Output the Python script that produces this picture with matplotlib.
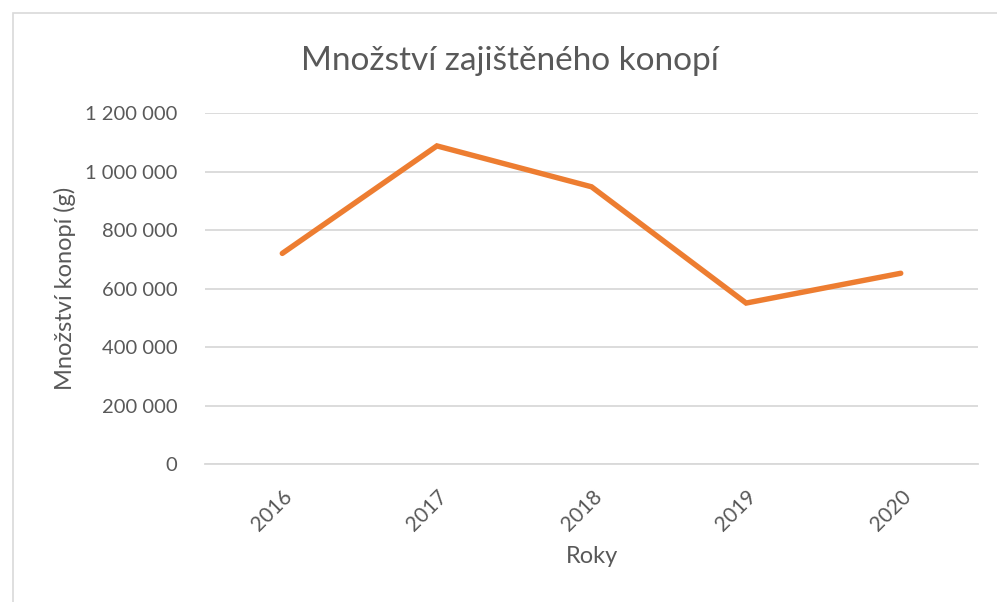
import matplotlib.pyplot as plt
from matplotlib.patches import Rectangle
from matplotlib.ticker import FuncFormatter

# data
years = ["2016", "2017", "2018", "2019", "2020"]
amount_g = [721000, 1089000, 949000, 551000, 653000]
y_ticks = [0, 200000, 400000, 600000, 800000, 1000000, 1200000]

plt.rcParams['font.family'] = ['Lato', 'DejaVu Sans']
text_col = "#595959"
grid_col = "#D9D9D9"

fig = plt.figure(figsize=(9.97, 6.02), dpi=100)
ax = fig.add_axes([0.2056, 0.2292, 0.7754, 0.5823])

# chart frame like the Excel chart area
fig.patches.append(Rectangle((13 / 997, -0.01), 1.0, 1 - 13 / 602 + 0.01,
                             transform=fig.transFigure, fill=False,
                             edgecolor=grid_col, linewidth=1.2))

x = list(range(len(years)))
ax.plot(x, amount_g, color="#ED7D31", linewidth=3.9,
        solid_capstyle="round", solid_joinstyle="miter", zorder=3)

ax.set_xlim(-0.5, len(years) - 0.5)
ax.set_ylim(0, 1200000)
ax.set_yticks(y_ticks)
ax.yaxis.set_major_formatter(FuncFormatter(lambda v, p: f"{int(v):,}".replace(",", " ")))
ax.set_xticks(x)
ax.set_xticklabels(years, rotation=45, ha="right", rotation_mode="anchor")

ax.grid(axis="y", color=grid_col, linewidth=1.3)
ax.set_axisbelow(True)
for s in ["top", "right", "left"]:
    ax.spines[s].set_visible(False)
ax.spines["bottom"].set_color(grid_col)
ax.spines["bottom"].set_linewidth(1.3)
ax.tick_params(axis="y", length=0, labelsize=14.5, colors=text_col, pad=20)
ax.tick_params(axis="x", length=0, labelsize=15, colors=text_col, pad=16)

ax.set_xlabel("Roky", fontsize=17, color=text_col, labelpad=8)
ax.set_ylabel("Množství konopí (g)", fontsize=17, color=text_col, labelpad=6)
fig.text(0.5110, 0.898, "Množství zajištěného konopí", ha="center", va="center",
         fontsize=24, color=text_col)

fig.savefig("out.png", dpi=100)
